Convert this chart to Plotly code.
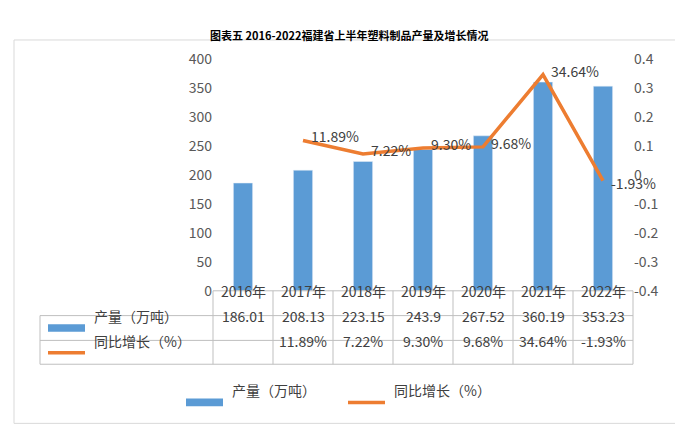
import plotly.graph_objects as go

years = ["2016年", "2017年", "2018年", "2019年", "2020年", "2021年", "2022年"]
output = [186.01, 208.13, 223.15, 243.9, 267.52, 360.19, 353.23]
output_txt = ["186.01", "208.13", "223.15", "243.9", "267.52", "360.19", "353.23"]
growth = [None, 0.1189, 0.0722, 0.0930, 0.0968, 0.3464, -0.0193]
growth_txt = ["", "11.89%", "7.22%", "9.30%", "9.68%", "34.64%", "-1.93%"]
right_ticks = [0.4, 0.3, 0.2, 0.1, 0, -0.1, -0.2, -0.3, -0.4]
right_tick_txt = ["0.4", "0.3", "0.2", "0.1", "0", "-0.1", "-0.2", "-0.3", "-0.4"]

W, H = 683, 432
BLUE, ORANGE, GREY, TXT = "#5B9BD5", "#ED7D31", "#BFBFBF", "#404040"
FONT = "Noto Sans CJK SC"

def px(x):
    return x / W

def py(y):
    return 1 - y / H

x0, x1 = 205, 625
xs = list(range(len(years)))

fig = go.Figure()
fig.add_bar(x=xs, y=output, marker_color=BLUE, width=0.32, name="产量（万吨）", showlegend=False)
fig.add_scatter(x=xs, y=growth, yaxis="y2", mode="lines", line=dict(color=ORANGE, width=3.5),
                name="同比增长（%）", showlegend=False)

fig.update_layout(
    width=W, height=H, margin=dict(l=0, r=0, t=0, b=0),
    paper_bgcolor="white", plot_bgcolor="white", font=dict(family=FONT, color=TXT),
    xaxis=dict(domain=[px(x0), px(x1)], range=[-0.5, 6.5], showticklabels=False, showgrid=False,
               zeroline=False, anchor="y"),
    yaxis=dict(domain=[py(285), py(42)], range=[0, 400], dtick=50, showgrid=False, zeroline=False,
               tickfont=dict(size=14, color="#595959")),
    yaxis2=dict(overlaying="y", side="right", range=[-0.4, 0.4], tickvals=right_ticks,
                ticktext=right_tick_txt, showgrid=False, zeroline=False,
                tickfont=dict(size=14, color="#595959")),
)

shapes, ann = [], []
shapes.append(dict(type="rect", xref="paper", yref="paper", x0=px(6), x1=px(678), y0=py(424), y1=py(22),
                   line=dict(color="#D9D9D9", width=1)))
rows = [285, 311, 337, 362]
for r in rows:
    shapes.append(dict(type="line", xref="paper", yref="paper", x0=px(32 if r > 285 else x0), x1=px(x1),
                       y0=py(r), y1=py(r), line=dict(color=GREY, width=1)))
step = (x1 - x0) / len(years)
for i in range(len(years) + 1):
    xv = x0 + i * step
    shapes.append(dict(type="line", xref="paper", yref="paper", x0=px(xv), x1=px(xv),
                       y0=py(285), y1=py(362), line=dict(color=GREY, width=1)))
shapes.append(dict(type="line", xref="paper", yref="paper", x0=px(32), x1=px(32),
                   y0=py(311), y1=py(362), line=dict(color=GREY, width=1)))
shapes.append(dict(type="rect", xref="paper", yref="paper", x0=px(40), x1=px(77), y0=py(328), y1=py(320),
                   fillcolor=BLUE, line_width=0))
shapes.append(dict(type="line", xref="paper", yref="paper", x0=px(40), x1=px(77), y0=py(350), y1=py(350),
                   line=dict(color=ORANGE, width=3.5)))
shapes.append(dict(type="rect", xref="paper", yref="paper", x0=px(178), x1=px(215), y0=py(406), y1=py(398),
                   fillcolor=BLUE, line_width=0))
shapes.append(dict(type="line", xref="paper", yref="paper", x0=px(340), x1=px(377), y0=py(402), y1=py(402),
                   line=dict(color=ORANGE, width=3.5)))

# point labels, placed slightly right of each point
for i, g in enumerate(growth):
    if g is None:
        continue
    ann.append(dict(x=i, xref="x", y=g, yref="y2", text=growth_txt[i], showarrow=False, xanchor="left",
                    xshift=6, yshift=4 if g > 0 else -2, font=dict(size=14, color=TXT)))

for i, yr in enumerate(years):
    ann.append(dict(x=i, xref="x", y=py(298), yref="paper", text=yr, showarrow=False, font=dict(size=14)))
    ann.append(dict(x=i, xref="x", y=py(324), yref="paper", text=output_txt[i], showarrow=False, font=dict(size=14)))
    ann.append(dict(x=i, xref="x", y=py(350), yref="paper", text=growth_txt[i], showarrow=False, font=dict(size=14)))
ann.append(dict(x=px(84), y=py(324), xref="paper", yref="paper", text="产量（万吨）", xanchor="left",
                showarrow=False, font=dict(size=14)))
ann.append(dict(x=px(84), y=py(350), xref="paper", yref="paper", text="同比增长（%）", xanchor="left",
                showarrow=False, font=dict(size=14)))
ann.append(dict(x=px(222), y=py(402), xref="paper", yref="paper", text="产量（万吨）", xanchor="left",
                showarrow=False, font=dict(size=14)))
ann.append(dict(x=px(384), y=py(402), xref="paper", yref="paper", text="同比增长（%）", xanchor="left",
                showarrow=False, font=dict(size=14)))
ann.append(dict(x=0.5, y=py(6), xref="paper", yref="paper",
                text="<b>图表五 2016-2022福建省上半年塑料制品产量及增长情况</b>", showarrow=False,
                font=dict(size=11, color="#000000")))

fig.update_layout(shapes=shapes, annotations=ann)
fig.write_html("out.html")
